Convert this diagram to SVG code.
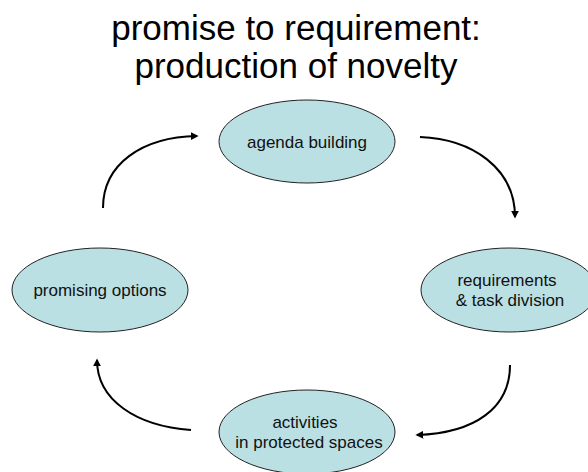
<svg xmlns="http://www.w3.org/2000/svg" width="588" height="472" viewBox="0 0 588 472">
<defs>
<style>
.node ellipse{fill:#BBE0E3;stroke:#222;stroke-width:1}
.node text{font-family:"Liberation Sans",Arial,sans-serif;font-size:17px;fill:#111;text-anchor:middle}
.title{font-family:"Liberation Sans",Arial,sans-serif;font-size:35px;fill:#000;text-anchor:middle}
.conn path{fill:none;stroke:#000;stroke-width:2;marker-end:url(#ah)}
</style>
<marker id="ah" viewBox="0 0 10 10" refX="8" refY="5" markerWidth="8" markerHeight="8" markerUnits="userSpaceOnUse" orient="auto">
<path d="M0,0 L10,5 L0,10 Z" fill="#000"/>
</marker>
</defs>
<rect width="588" height="472" fill="#fff"/>
<g id="title">
<text class="title" x="296" y="40">promise to requirement:</text>
<text class="title" x="296" y="78">production of novelty</text>
</g>
<g id="agenda" class="node">
<ellipse cx="307" cy="141.5" rx="88" ry="41.5"/>
<text x="307" y="148">agenda building</text>
</g>
<g id="requirements" class="node">
<ellipse cx="509" cy="290" rx="88" ry="42"/>
<text x="507" y="286">requirements</text>
<text x="510" y="306">&amp; task division</text>
</g>
<g id="activities" class="node">
<ellipse cx="307" cy="432" rx="88" ry="42"/>
<text x="305" y="428">activities</text>
<text x="309" y="448">in protected spaces</text>
</g>
<g id="promising" class="node">
<ellipse cx="100" cy="290" rx="88" ry="42"/>
<text x="100" y="296">promising options</text>
</g>
<g id="connectors" class="conn">
<path d="M420,137 C472,139 515,168 515,217"/>
<path d="M510,365 C510,408 475,433 417,435"/>
<path d="M191,430 C136,426 97,400 97,360"/>
<path d="M103,208 C103,164 142,137 197,136"/>
</g>
</svg>
